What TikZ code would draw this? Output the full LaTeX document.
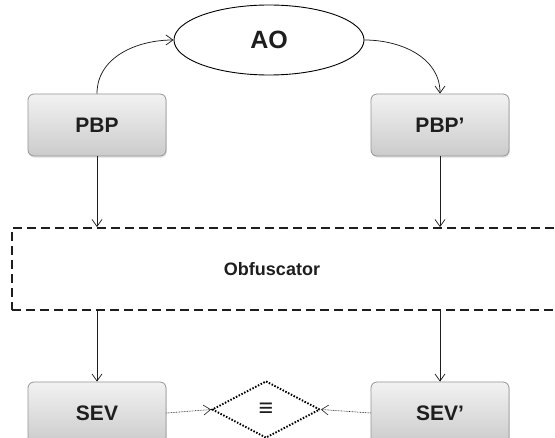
\documentclass[tikz,border=0pt]{standalone}
\usepackage{fontspec}
\setmainfont{Liberation Sans}
\usetikzlibrary{positioning,shapes.geometric,arrows.meta,shadows}
\definecolor{BoxLine}{RGB}{150,150,150}
\definecolor{BoxTop}{RGB}{242,242,242}
\definecolor{BoxBot}{RGB}{203,203,203}
\definecolor{InkGray}{RGB}{30,30,30}
\tikzset{
  block/.style={draw=BoxLine,line width=0.8pt,rounded corners=6pt,top color=BoxTop,bottom color=BoxBot,
    minimum width=138pt,minimum height=62pt,text=InkGray,font=\bfseries\fontsize{21}{24}\selectfont,
    drop shadow={opacity=0.25,shadow xshift=0.8pt,shadow yshift=-1.6pt}},
  oracle/.style={ellipse,draw=black,line width=0.9pt,fill=white,minimum width=190pt,minimum height=70pt,
    inner sep=0pt,text=InkGray,font=\bfseries\fontsize{25}{28}\selectfont},
  obfbox/.style={draw=InkGray,line width=1.8pt,dash pattern=on 9pt off 5pt,minimum width=580pt,minimum height=82pt},
  eqv/.style={diamond,draw=black,line width=1.9pt,dash pattern=on 1.5pt off 1.6pt,minimum width=108pt,
    minimum height=57pt,inner sep=0pt,text=InkGray,font=\bfseries\fontsize{25}{26}\selectfont},
  link/.style={draw=InkGray,line width=0.75pt,-{Straight Barb[length=7pt,width=10pt]}},
  cmp/.style={link,line width=0.6pt,dash pattern=on 0.8pt off 0.8pt},
}
\begin{document}
\begin{tikzpicture}[x=1pt,y=1pt]
\useasboundingbox (0,-438) rectangle (555,0);
\clip (0,-438) rectangle (555,0);
\fill[white] (0,-438) rectangle (555,0);
% oracle and programs
\node[oracle] (ao) at (269,-40) {AO};
\node[block] (pbp) at (97,-125) {PBP};
\node[block] (pbpx) at (440,-125) {PBP'};
% obfuscator
\node[obfbox] (obf) at (302,-269) {};
\node[text=InkGray,font=\bfseries\fontsize{18}{20}\selectfont] (obftext) at (272,-269) {Obfuscator};
% equivalent programs
\node[block] (sev) at (97,-413) {SEV};
\node[block] (sevx) at (440,-413) {SEV'};
\node[eqv] (eq) at (266,-409.5) {≡};
\draw[link] (pbp.north) to[out=90,in=180] (ao.west);
\draw[link] (ao.east) to[out=0,in=90] (pbpx.north);
\draw[link] (pbp.south) -- (pbp.south |- obf.north);
\draw[link] (pbpx.south) -- (pbpx.south |- obf.north);
\draw[link] (pbp.south |- obf.south) -- (sev.north);
\draw[link] (pbpx.south |- obf.south) -- (sevx.north);
\draw[cmp] (sev.east) -- (eq.west);
\draw[cmp] (sevx.west) -- (eq.east);
\end{tikzpicture}
\end{document}
